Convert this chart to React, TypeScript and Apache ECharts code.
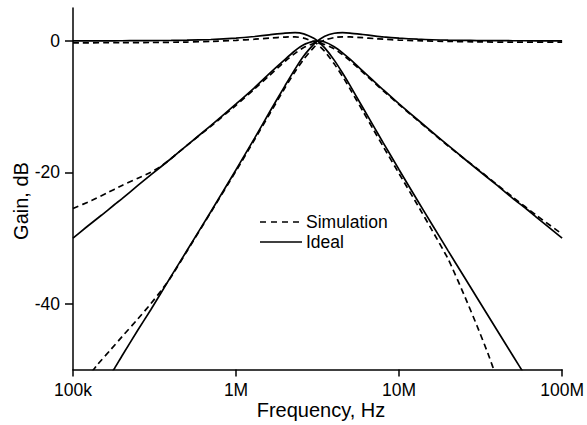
import React, { useEffect, useRef } from "react";
import * as echarts from "echarts";

const xTickValues = [1e5, 1e6, 1e7, 1e8];
const xTickLabels = ["100k", "1M", "10M", "100M"];
const yTickValues = [-40, -20, 0];

const idealLP: [number, number][] = [
  [1e5, 0.0], [1.2e5, 0.01], [1.5e5, 0.01], [1.8e5, 0.01], [2e5, 0.02], [2.5e5, 0.03], [3e5, 0.04],
  [4e5, 0.07], [5e5, 0.11], [7e5, 0.21], [1e6, 0.41], [1.3e6, 0.66], [1.6e6, 0.92], [2e6, 1.19],
  [2.3e6, 1.24], [2.6e6, 1.07], [3e6, 0.4], [3.16e6, 0.0], [3.5e6, -1.07], [4e6, -2.93], [4.5e6, -4.89],
  [5e6, -6.78], [6e6, -10.17], [7e6, -13.05], [8e6, -15.52], [1e7, -19.6], [1.3e7, -24.32], [1.6e7, -28.01],
  [2e7, -31.95], [2.5e7, -35.86], [3e7, -39.05], [4e7, -44.07], [5e7, -47.95], [6e7, -51.1], [7e7, -53.8],
];
const idealHP: [number, number][] = [
  [1.5e5, -52.9], [1.8e5, -49.8], [2e5, -47.9], [2.5e5, -44.0], [3e5, -40.9], [4e5, -35.8], [5e5, -31.9],
  [7e5, -26.0], [1e6, -19.6], [1.3e6, -14.8], [1.6e6, -10.9], [2e6, -6.8], [2.3e6, -4.3], [2.6e6, -2.3],
  [3e6, -0.5], [3.16e6, 0.0], [3.5e6, 0.71], [4e6, 1.16], [4.5e6, 1.25], [5e6, 1.19], [6e6, 0.97],
  [7e6, 0.77], [8e6, 0.61], [1e7, 0.41], [1.3e7, 0.25], [1.6e7, 0.17], [2e7, 0.1], [2.5e7, 0.07],
  [3e7, 0.05], [4e7, 0.03], [5e7, 0.02], [7e7, 0.01], [1e8, 0.0],
];
const idealBP: [number, number][] = [
  [1e5, -30.0], [1.2e5, -28.4], [1.5e5, -26.5], [1.8e5, -24.9], [2e5, -24.0], [2.5e5, -22.0], [3e5, -20.4],
  [4e5, -17.9], [5e5, -15.9], [7e5, -12.9], [1e6, -9.6], [1.3e6, -7.1], [1.6e6, -5.0], [2e6, -2.8],
  [2.3e6, -1.5], [2.6e6, -0.6], [3e6, -0.05], [3.16e6, 0.0], [3.5e6, -0.18], [4e6, -0.89], [4.5e6, -1.82],
  [5e6, -2.79], [6e6, -4.6], [7e6, -6.14], [8e6, -7.45], [1e7, -9.6], [1.3e7, -12.0], [1.6e7, -13.9],
  [2e7, -15.9], [2.5e7, -17.9], [3e7, -19.5], [4e7, -22.0], [5e7, -24.0], [6e7, -25.5], [7e7, -26.9], [1e8, -30.0],
];

const simLP: [number, number][] = [
  [1e5, -0.3], [2e5, -0.28], [3e5, -0.25], [5e5, -0.18], [7e5, -0.08], [1e6, 0.08], [1.3e6, 0.25],
  [1.6e6, 0.42], [2e6, 0.58], [2.3e6, 0.6], [2.6e6, 0.42], [3e6, -0.15], [3.16e6, -0.5], [3.5e6, -1.6],
  [4e6, -3.5], [4.5e6, -5.4], [5e6, -7.3], [6e6, -10.7], [7e6, -13.6], [8e6, -16.1], [1e7, -20.2],
  [1.3e7, -25.0], [1.6e7, -28.9], [2e7, -33.2], [2.5e7, -38.6], [3e7, -43.3], [3.5e7, -47.5], [4e7, -51.5],
];
const simHP: [number, number][] = [
  [1.2e5, -51.5], [1.42e5, -49.2], [1.7e5, -47.0], [2e5, -45.0], [2.5e5, -42.3], [3e5, -40.0], [3.5e5, -37.9],
  [4e5, -35.9], [5e5, -32.0], [7e5, -26.1], [1e6, -19.8], [1.3e6, -15.0], [1.6e6, -11.2], [2e6, -7.1],
  [2.3e6, -4.7], [2.6e6, -2.8], [3e6, -1.0], [3.16e6, -0.5], [3.5e6, 0.15], [4e6, 0.5], [4.5e6, 0.62],
  [5e6, 0.6], [6e6, 0.48], [7e6, 0.35], [8e6, 0.25], [1e7, 0.12], [1.3e7, 0.02], [2e7, -0.08],
  [3e7, -0.15], [5e7, -0.2], [1e8, -0.2],
];
const simBP: [number, number][] = [
  [1e5, -25.5], [1.3e5, -24.3], [1.6e5, -23.2], [2e5, -22.0], [2.5e5, -20.9], [3e5, -20.0], [3.5e5, -19.0],
  [4e5, -17.9], [5e5, -15.9], [7e5, -13.0], [1e6, -9.8], [1.3e6, -7.3], [1.6e6, -5.3], [2e6, -3.1],
  [2.3e6, -1.9], [2.6e6, -1.0], [3e6, -0.4], [3.16e6, -0.35], [3.5e6, -0.55], [4e6, -1.2], [4.5e6, -2.1],
  [5e6, -3.0], [6e6, -4.8], [7e6, -6.3], [8e6, -7.6], [1e7, -9.7], [1.3e7, -12.1], [1.6e7, -14.0],
  [2e7, -16.0], [2.5e7, -17.9], [3e7, -19.4], [4e7, -21.9], [5e7, -23.8], [7e7, -26.6], [1e8, -29.4],
];

const FONT = "'Liberation Sans', Arial, Helvetica, sans-serif";

export default function App() {
  const ref = useRef<HTMLDivElement>(null);
  useEffect(() => {
    if (!ref.current) return;
    const chart = echarts.init(ref.current, null, { renderer: "svg" });
    const lineSeries = (name: string, data: [number, number][], dashed: boolean) => ({
      type: "line",
      name,
      data,
      showSymbol: false,
      symbol: "none",
      smooth: 0.2,
      clip: true,
      lineStyle: {
        color: "#000",
        width: 1.7,
        type: dashed ? [6, 4] : "solid",
      },
      z: dashed ? 3 : 2,
    });
    chart.setOption({
      animation: false,
      backgroundColor: "#fff",
      textStyle: { fontFamily: FONT, color: "#000" },
      grid: { left: 73, right: 23, top: 8, bottom: 55.5, containLabel: false },
      xAxis: {
        type: "log",
        logBase: 10,
        min: 1e5,
        max: 1e8,
        axisLine: { onZero: false, lineStyle: { color: "#000", width: 1.5 } },
        axisTick: { show: true, length: 7, lineStyle: { color: "#000", width: 1.5 }, customValues: xTickValues },
        axisLabel: {
          customValues: xTickValues,
          margin: 11,
          fontSize: 17.5,
          color: "#000",
          fontFamily: FONT,
          formatter: (v: number) => {
            const i = xTickValues.findIndex((t) => Math.abs(Math.log10(t) - Math.log10(v)) < 1e-6);
            return i >= 0 ? xTickLabels[i] : "";
          },
        },
        splitLine: { show: false },
        minorTick: { show: false },
      },
      yAxis: {
        type: "value",
        min: -50,
        max: 5,
        axisLine: { show: true, onZero: false, lineStyle: { color: "#000", width: 1.5 } },
        axisTick: { show: true, length: 8, lineStyle: { color: "#000", width: 1.5 }, customValues: yTickValues },
        axisLabel: { customValues: yTickValues, margin: 13, fontSize: 17.5, color: "#000", fontFamily: FONT },
        splitLine: { show: false },
      },
      graphic: [
        {
          type: "text",
          x: 321,
          y: 410,
          style: { text: "Frequency, Hz", font: `20px ${FONT}`, fill: "#000", textAlign: "center", textVerticalAlign: "middle" },
        },
        {
          type: "text",
          x: 21,
          y: 201,
          rotation: Math.PI / 2,
          style: { text: "Gain, dB", font: `20px ${FONT}`, fill: "#000", textAlign: "center", textVerticalAlign: "middle" },
        },
        {
          type: "line",
          shape: { x1: 260, y1: 222, x2: 302, y2: 222 },
          style: { stroke: "#000", lineWidth: 1.7, lineDash: [6, 5] },
        },
        {
          type: "line",
          shape: { x1: 260, y1: 242, x2: 302, y2: 242 },
          style: { stroke: "#000", lineWidth: 1.7 },
        },
        {
          type: "text",
          x: 306,
          y: 222,
          style: { text: "Simulation", font: `17.5px ${FONT}`, fill: "#000", textAlign: "left", textVerticalAlign: "middle" },
        },
        {
          type: "text",
          x: 306,
          y: 242,
          style: { text: "Ideal", font: `17.5px ${FONT}`, fill: "#000", textAlign: "left", textVerticalAlign: "middle" },
        },
      ],
      series: [
        lineSeries("Ideal LP", idealLP, false),
        lineSeries("Ideal HP", idealHP, false),
        lineSeries("Ideal BP", idealBP, false),
        lineSeries("Simulation LP", simLP, true),
        lineSeries("Simulation HP", simHP, true),
        lineSeries("Simulation BP", simBP, true),
      ],
    });
    return () => chart.dispose();
  }, []);
  return (
    <div
      ref={ref}
      style={{ position: "fixed", left: 0, top: 0, width: 587, height: 425, background: "#fff" }}
    />
  );
}
